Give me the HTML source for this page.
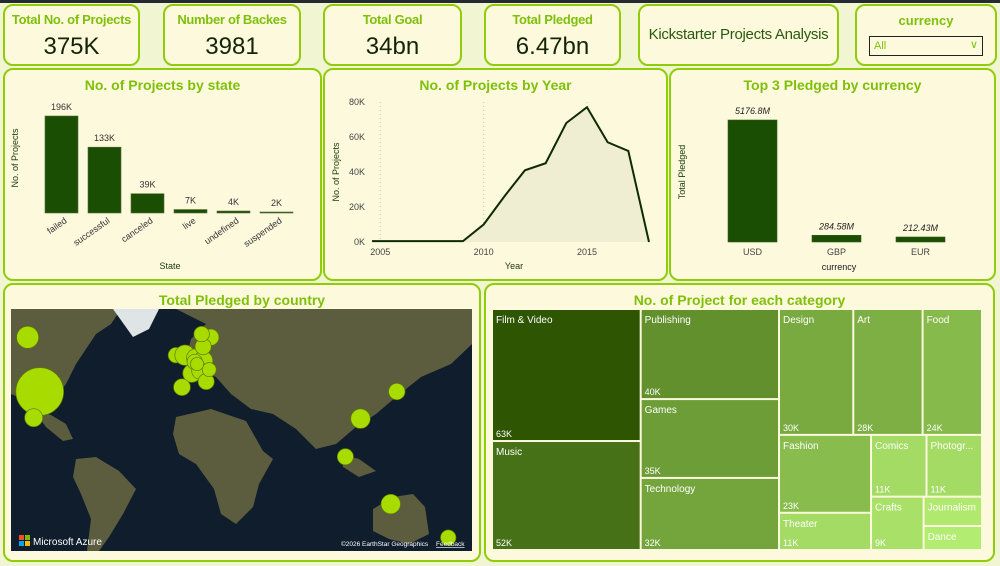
<!DOCTYPE html>
<html><head><meta charset="utf-8">
<style>
body{margin:0;width:1000px;height:566px;overflow:hidden;background:#f1f5d2;font-family:"Liberation Sans",sans-serif;position:relative}
.card{position:absolute;background:#fdf9dd;border:2px solid #8fcd0a;border-radius:10px;box-sizing:border-box}
.kt{position:absolute;left:0;right:0;top:6px;text-align:center;color:#7fc00a;font-size:13px;font-weight:bold;white-space:nowrap;letter-spacing:-0.3px}
.kv{position:absolute;left:0;right:0;top:27px;text-align:center;color:#14240a;font-size:24px}
.ct{position:absolute;left:0;right:0;top:7px;text-align:center;color:#7fc00a;font-size:14px;font-weight:bold}
svg text{font-family:"Liberation Sans",sans-serif}
</style></head><body>
<div style="position:absolute;left:0;top:0;width:1000px;height:3px;background:#252a30"></div>

<div class="card" style="left:3px;top:4px;width:137px;height:62px"><div class="kt">Total No. of Projects</div><div class="kv">375K</div></div>
<div class="card" style="left:163px;top:4px;width:138px;height:62px"><div class="kt">Number of Backes</div><div class="kv">3981</div></div>
<div class="card" style="left:323px;top:4px;width:139px;height:62px"><div class="kt">Total Goal</div><div class="kv">34bn</div></div>
<div class="card" style="left:484px;top:4px;width:137px;height:62px"><div class="kt">Total Pledged</div><div class="kv">6.47bn</div></div>
<div class="card" style="left:638px;top:4px;width:201px;height:62px"><div style="position:absolute;left:0;right:0;top:20px;text-align:center;color:#2a5a0c;font-size:15px;white-space:nowrap;letter-spacing:-0.3px">Kickstarter Projects Analysis</div></div>
<div class="card" style="left:855px;top:4px;width:142px;height:62px">
 <div style="position:absolute;left:0;right:0;top:7px;text-align:center;color:#7fc00a;font-size:13px;font-weight:bold">currency</div>
 <div style="position:absolute;left:12px;top:30px;width:108px;height:18px;border:1px solid #222;background:#fdf9dd;color:#7fc00a;font-size:11px;line-height:18px;padding-left:4px">All<span style="position:absolute;right:4px;top:-1px;color:#7fc00a;font-size:11px">&#8744;</span></div>
</div>

<div class="card" style="left:3px;top:68px;width:319px;height:213px"><div class="ct">No. of Projects by state</div></div>
<div class="card" style="left:323px;top:68px;width:345px;height:213px"><div class="ct">No. of Projects by Year</div></div>
<div class="card" style="left:669px;top:68px;width:327px;height:213px"><div class="ct">Top 3 Pledged by currency</div></div>

<div class="card" style="left:3px;top:283px;width:478px;height:279px"><div class="ct">Total Pledged by country</div></div>
<svg style="position:absolute;left:11px;top:309px" width="461" height="242">
 <rect width="461" height="242" fill="#0f1d2c"/>
 <g fill="#5b5d3e">
  <path d="M0,0 L110,0 L100,15 L85,25 L75,40 L65,55 L55,75 L45,88 L40,100 L28,100 L12,90 L0,85Z"/>
  <path d="M22,100 L40,106 L55,115 L62,130 L52,132 L35,118Z"/>
  <path d="M65,150 L85,148 L108,162 L125,180 L112,205 L98,228 L88,242 L76,242 L80,210 L70,185 L62,168Z"/>
  <path d="M165,0 L461,0 L461,35 L440,55 L410,68 L385,88 L365,105 L345,118 L325,135 L305,140 L285,120 L262,105 L240,100 L220,85 L205,68 L190,62 L175,50 L180,30 L195,15Z"/>
  <path d="M165,108 L200,100 L235,112 L252,142 L262,150 L248,175 L242,198 L225,215 L210,205 L203,180 L185,155 L168,145 L162,125Z"/>
  <path d="M362,200 L382,188 L402,185 L414,198 L418,225 L398,235 L378,230 L362,222Z"/>
  <path d="M330,145 L348,150 L365,162 L348,168 L332,158Z"/>
 </g>
 <path d="M102,0 L148,0 L138,20 L122,28Z" fill="#dfe4e6"/>
 <g id="mapBubbles"></g>
 <rect x="8" y="226" width="5" height="5" fill="#f25022"/><rect x="14" y="226" width="5" height="5" fill="#7fba00"/><rect x="8" y="232" width="5" height="5" fill="#00a4ef"/><rect x="14" y="232" width="5" height="5" fill="#ffb900"/>
 <text x="22" y="236" fill="#fff" font-size="10">Microsoft Azure</text>
 <text x="330" y="237" fill="#fff" font-size="6.5">©2026 EarthStar Geographics</text>
 <text x="425" y="237" fill="#fff" font-size="6.5" text-decoration="underline">Feedback</text>
</svg>

<div class="card" style="left:484px;top:283px;width:511px;height:279px"><div class="ct">No. of Project for each category</div></div>
<svg id="tmSvg" style="position:absolute;left:0;top:0" width="1000" height="566"></svg>
<svg id="chartSvg" style="position:absolute;left:0;top:0;pointer-events:none" width="1000" height="566"></svg>

<script>
const stateCats = ["failed","successful","canceled","live","undefined","suspended"];
const stateVals = [196,133,39,7,4,2];
const stateLabels = ["196K","133K","39K","7K","4K","2K"];
const years = [2005,2006,2007,2008,2009,2010,2011,2012,2013,2014,2015,2016,2017,2018];
const yearVals = [0.5,0.5,0.5,0.5,0.5,10,26,41,45,68,77,57,52,0];
const yearTicks = [0,20,40,60,80];
const yearTickLabels = ["0K","20K","40K","60K","80K"];
const yearXTicks = [2005,2010,2015];
const curCats = ["USD","GBP","EUR"];
const curVals = [5176.8,284.58,212.43];
const curLabels = ["5176.8M","284.58M","212.43M"];
const tmCats = ["Film & Video","Music","Publishing","Games","Technology","Design","Art","Food","Fashion","Theater","Comics","Photogr...","Crafts","Journalism","Dance"];
const tmVals = [63,52,40,35,32,30,28,24,23,11,11,11,9,5.5,4.5];
const tmLabels = ["63K","52K","40K","35K","32K","30K","28K","24K","23K","11K","11K","11K","9K","",""];
const tmStrips = [2,3,3,2,2,1,2];
const countries = ["CA","US","MX","IE","GB","NL","DE","SE","FR","BE","CH","IT","ES","AT","LU","DK","NO","JP","HK","SG","AU","NZ"];
const countryVals = [ 45, 210, 30, 22, 38, 30, 34, 25, 30, 22, 26, 24, 26, 18, 16, 24, 22, 25, 35, 24, 35, 22];
const countryLon = [-106,-98,-102,-8,-2,5,10,15,2.5,4.5,8,12,-4,14,6,10,9,138,114,104,134,172];
const countryLat = [57,36,23,51,51,50,49,57,44,48.5,45,40.5,38,45.5,47.7,54,58,36,22.5,1.3,-25,-41];

const NS="http://www.w3.org/2000/svg";
function mk(svg,tag,attrs){const e=document.createElementNS(NS,tag);for(const k in attrs)e.setAttribute(k,attrs[k]);svg.appendChild(e);return e;}
const C=document.getElementById('chartSvg');

(function(){
 const x0=45,step=43,bw=33,base=213,scale=97/196;
 const ys=v=>base-v*scale;
 stateCats.forEach((c,i)=>{
  const x=x0+i*step, y=ys(stateVals[i]);
  const r=mk(C,'rect',{x:x,y:y,width:bw,height:Math.max(1,base-y),fill:'#1a4e02',stroke:'#566b3a','stroke-width':0.6});
  
  
  const t=mk(C,'text',{x:x+bw/2,y:y-6,'text-anchor':'middle','font-size':9,fill:'#333'});t.textContent=stateLabels[i];
  
  
  const tx=x+bw/2+6, ty=base+9;
  const l=mk(C,'text',{x:tx,y:ty,'text-anchor':'end','font-size':9,fill:'#333',transform:`rotate(-35 ${tx} ${ty})`});l.textContent=c;
  
  
 });
 const yt=mk(C,'text',{x:18,y:158,'font-size':9,fill:'#1b3a0a','text-anchor':'middle',transform:'rotate(-90 18 158)'});yt.textContent='No. of Projects';
 
 
 const xt=mk(C,'text',{x:170,y:269,'font-size':9,fill:'#1b3a0a','text-anchor':'middle'});xt.textContent='State';
 
 
})();

(function(){
 const xmin=2004.6,xmax=2018,x0=372,x1=649,y0=242,y1=102;
 const xs=v=>x0+(v-xmin)/(xmax-xmin)*(x1-x0);
 const ys=v=>y0-v/80*(y0-y1);
 yearXTicks.forEach(t=>{
  const g=mk(C,'line',{x1:xs(t),x2:xs(t),y1:y1,y2:y0,stroke:'#c8c8b8','stroke-dasharray':'1,3'});
  
  
  const l=mk(C,'text',{x:xs(t),y:y0+13,'text-anchor':'middle','font-size':9,fill:'#444'});l.textContent=t;
  
  
 });
 yearTicks.forEach((t,i)=>{
  const l=mk(C,'text',{x:365,y:ys(t)+3,'text-anchor':'end','font-size':9,fill:'#444'});l.textContent=yearTickLabels[i];
  
  
 });
 let pts=[[xs(xmin),ys(yearVals[0])]].concat(years.map((y,i)=>[xs(y),ys(yearVals[i])]));
 const d='M'+pts.map(p=>p.join(',')).join(' L');
 const a=mk(C,'path',{d:d+` L${xs(xmax)},${y0} L${xs(xmin)},${y0} Z`,fill:'#efedd2'});
 
 
 const ln=mk(C,'path',{d:d,fill:'none',stroke:'#0f2a06','stroke-width':2});
 
 
 const yt=mk(C,'text',{x:339,y:172,'font-size':9,fill:'#1b3a0a','text-anchor':'middle',transform:'rotate(-90 339 172)'});yt.textContent='No. of Projects';
 
 
 const xt=mk(C,'text',{x:514,y:269,'font-size':9,fill:'#1b3a0a','text-anchor':'middle'});xt.textContent='Year';
 
 
})();

(function(){
 const x0=728,step=84,bw=49,base=242,scale=122/5176.8;
 curCats.forEach((c,i)=>{
  const x=x0+i*step,h=Math.max(3,curVals[i]*scale),y=base-h;
  const r=mk(C,'rect',{x:x,y:y,width:bw,height:h,fill:'#1a4e02',stroke:'#3a5a20','stroke-width':0.6});
  
  
  const t=mk(C,'text',{x:x+bw/2,y:y-6,'text-anchor':'middle','font-size':9,'font-style':'italic',fill:'#222'});t.textContent=curLabels[i];
  
  
  const l=mk(C,'text',{x:x+bw/2,y:base+13,'text-anchor':'middle','font-size':9,fill:'#444'});l.textContent=c;
  
  
 });
 const yt=mk(C,'text',{x:685,y:172,'font-size':9,fill:'#1b3a0a','text-anchor':'middle',transform:'rotate(-90 685 172)'});yt.textContent='Total Pledged';
 
 
 const xt=mk(C,'text',{x:839,y:270,'font-size':9,fill:'#1b1b1b','text-anchor':'middle'});xt.textContent='currency';
 
 
})();

(function(){
 const g=document.getElementById('mapBubbles');
 const lx=lon=>(lon+117)*1.513;
 const merc=lat=>Math.log(Math.tan(Math.PI/4+lat*Math.PI/360));
 const ly=lat=>(1.50-merc(lat))*100;
 countries.forEach((c,i)=>{
  const r=Math.sqrt(countryVals[i])*1.65;
  const b=mk(g,'circle',{cx:lx(countryLon[i]),cy:ly(countryLat[i]),r:r,fill:'#a8dc00',stroke:'#5f7a00','stroke-width':0.7});
  
  
 });
})();

(function(){
 const S=document.getElementById('tmSvg');
 const X=493,Y=310,W=490,H=241,gap=2;
 const total=tmVals.reduce((a,b)=>a+b,0);
 const k=W*H/total;
 const out=[];
 let rect={x:X,y:Y,w:W,h:H},idx=0;
 tmStrips.forEach(n=>{
  const ids=[];for(let j=0;j<n;j++)ids.push(idx+j);idx+=n;
  const s=ids.reduce((a,i)=>a+tmVals[i],0)*k;
  if(rect.w>=rect.h){const cw=s/rect.h;let y=rect.y;ids.forEach(i=>{const h=tmVals[i]*k/cw;out.push({i:i,x:rect.x,y:y,w:cw,h:h});y+=h;});rect={x:rect.x+cw,y:rect.y,w:rect.w-cw,h:rect.h};}
  else{const rh=s/rect.w;let x=rect.x;ids.forEach(i=>{const w=tmVals[i]*k/rh;out.push({i:i,x:x,y:rect.y,w:w,h:rh});x+=w;});rect={x:rect.x,y:rect.y+rh,w:rect.w,h:rect.h-rh};}
 });
 const dark=[45,85,2],light=[178,236,112],maxV=Math.max(...tmVals),minV=Math.min(...tmVals);
 out.forEach(o=>{
  const v=tmVals[o.i];const t=(maxV-v)/(maxV-minV);
  const col=dark.map((d,j)=>Math.round(d+(light[j]-d)*t));
  const r=mk(S,'rect',{x:o.x,y:o.y,width:o.w-gap,height:o.h-gap,fill:`rgb(${col.join(',')})`});
  
  
  const n=mk(S,'text',{x:o.x+3,y:o.y+13,'font-size':10,fill:'#fff'});n.textContent=tmCats[o.i];
  
  
  if(tmLabels[o.i]){const l=mk(S,'text',{x:o.x+3,y:o.y+o.h-gap-3,'font-size':9,fill:'#fff'});l.textContent=tmLabels[o.i];
  
  }
 });
})();
</script>
</body></html>
